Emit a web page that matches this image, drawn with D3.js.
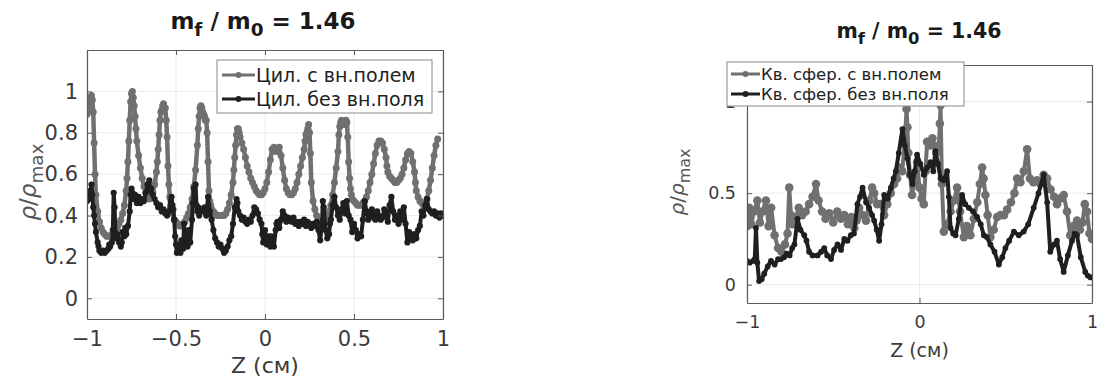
<!DOCTYPE html>
<html>
<head>
<meta charset="utf-8">
<script src="https://cdn.jsdelivr.net/npm/d3@7"></script>
<style>
  body { margin: 0; background: #fff; }
  svg { display: block; }
  text { font-family: "DejaVu Sans", sans-serif; }
</style>
</head>
<body>
<svg id="chart" width="1097" height="382"></svg>
<script>
// ---------------- DATA ----------------
const titleText = ["m", "f", " / m", "0", " = 1.46"];
const xTicksLeft = [-1, -0.5, 0, 0.5, 1];
const yTicksLeft = [0, 0.2, 0.4, 0.6, 0.8, 1];
const xTicksRight = [-1, 0, 1];
const yTicksRight = [0, 0.5, 1];
const legendLeft = ["Цил. с вн.полем", "Цил. без вн.поля"];
const legendRight = ["Кв. сфер. с вн.полем", "Кв. сфер. без вн.поля"];
const xLabel = "Z (см)";

// Left: cylinder, with external field (gray)
const cylFieldX = [-1.00,-0.995,-0.99,-0.985,-0.98,-0.975,-0.97,-0.965,-0.96,-0.955,-0.95,-0.94,-0.93,-0.92,-0.91,-0.90,-0.89,-0.88,-0.87,-0.86,-0.85,-0.84,-0.83,-0.82,-0.81,-0.80,-0.79,-0.78,-0.775,-0.77,-0.765,-0.76,-0.755,-0.75,-0.745,-0.74,-0.735,-0.73,-0.725,-0.72,-0.71,-0.70,-0.69,-0.68,-0.67,-0.66,-0.65,-0.64,-0.63,-0.62,-0.61,-0.605,-0.60,-0.595,-0.59,-0.585,-0.58,-0.575,-0.57,-0.565,-0.56,-0.555,-0.55,-0.545,-0.54,-0.535,-0.53,-0.52,-0.51,-0.50,-0.49,-0.48,-0.47,-0.46,-0.45,-0.44,-0.43,-0.42,-0.41,-0.40,-0.39,-0.38,-0.375,-0.37,-0.365,-0.36,-0.355,-0.35,-0.345,-0.34,-0.335,-0.33,-0.325,-0.32,-0.315,-0.31,-0.305,-0.30,-0.29,-0.28,-0.27,-0.26,-0.25,-0.24,-0.23,-0.22,-0.21,-0.20,-0.19,-0.18,-0.175,-0.17,-0.165,-0.16,-0.155,-0.15,-0.145,-0.14,-0.13,-0.12,-0.11,-0.10,-0.09,-0.08,-0.07,-0.06,-0.05,-0.04,-0.03,-0.02,-0.01,0.00,0.01,0.02,0.03,0.04,0.05,0.06,0.07,0.08,0.09,0.10,0.11,0.12,0.13,0.14,0.15,0.16,0.17,0.18,0.19,0.20,0.21,0.22,0.225,0.23,0.235,0.24,0.245,0.25,0.255,0.26,0.27,0.28,0.29,0.30,0.31,0.32,0.33,0.34,0.35,0.36,0.37,0.38,0.39,0.40,0.41,0.415,0.42,0.425,0.43,0.435,0.44,0.445,0.45,0.455,0.46,0.465,0.47,0.475,0.48,0.485,0.49,0.50,0.51,0.52,0.53,0.54,0.55,0.56,0.57,0.58,0.59,0.60,0.61,0.62,0.63,0.64,0.65,0.66,0.67,0.68,0.685,0.69,0.70,0.71,0.72,0.73,0.74,0.75,0.76,0.77,0.78,0.79,0.80,0.81,0.82,0.83,0.84,0.845,0.85,0.86,0.87,0.88,0.89,0.90,0.91,0.92,0.93,0.94,0.95,0.96,0.97,0.98,0.99,1.00];
const cylFieldY = [0.89,0.90,0.93,0.95,0.97,0.98,0.96,0.90,0.75,0.60,0.50,0.42,0.37,0.34,0.32,0.31,0.30,0.30,0.30,0.31,0.32,0.33,0.34,0.36,0.38,0.41,0.45,0.52,0.58,0.66,0.76,0.86,0.95,0.99,1.00,0.97,0.93,0.88,0.82,0.76,0.69,0.63,0.58,0.54,0.51,0.49,0.48,0.49,0.51,0.55,0.61,0.66,0.72,0.79,0.86,0.90,0.91,0.93,0.94,0.92,0.92,0.86,0.78,0.64,0.55,0.49,0.45,0.41,0.38,0.37,0.36,0.35,0.35,0.36,0.37,0.39,0.41,0.44,0.48,0.54,0.62,0.74,0.82,0.88,0.92,0.93,0.92,0.90,0.89,0.88,0.86,0.86,0.80,0.66,0.52,0.47,0.45,0.43,0.42,0.41,0.40,0.40,0.40,0.40,0.40,0.41,0.43,0.46,0.50,0.56,0.62,0.68,0.74,0.79,0.82,0.82,0.80,0.78,0.75,0.72,0.68,0.64,0.61,0.58,0.56,0.54,0.52,0.51,0.50,0.50,0.51,0.53,0.56,0.61,0.67,0.72,0.73,0.71,0.72,0.73,0.69,0.63,0.57,0.53,0.51,0.50,0.50,0.51,0.53,0.56,0.60,0.64,0.68,0.72,0.76,0.79,0.80,0.82,0.84,0.80,0.70,0.56,0.47,0.43,0.40,0.38,0.37,0.37,0.37,0.38,0.40,0.42,0.45,0.50,0.56,0.63,0.71,0.79,0.83,0.85,0.86,0.85,0.84,0.84,0.85,0.86,0.85,0.78,0.66,0.58,0.53,0.50,0.48,0.47,0.46,0.45,0.45,0.45,0.46,0.47,0.49,0.52,0.56,0.60,0.65,0.70,0.74,0.76,0.76,0.75,0.72,0.68,0.64,0.61,0.59,0.58,0.57,0.56,0.56,0.57,0.58,0.60,0.63,0.67,0.70,0.71,0.70,0.66,0.61,0.56,0.52,0.49,0.47,0.46,0.45,0.46,0.48,0.52,0.57,0.63,0.69,0.74,0.77];

// Left: cylinder, without external field (black) — [Z, rho/rho_max]
const cylNoField = [[-1.00,0.47],[-0.99,0.48],[-0.98,0.52],[-0.975,0.55],[-0.97,0.50],[-0.965,0.44],[-0.96,0.40],[-0.955,0.36],[-0.95,0.32],[-0.94,0.27],[-0.935,0.25],[-0.93,0.23],[-0.92,0.22],[-0.91,0.23],[-0.90,0.22],[-0.89,0.23],[-0.88,0.24],[-0.875,0.26],[-0.87,0.25],[-0.86,0.27],[-0.855,0.33],[-0.85,0.51],[-0.845,0.44],[-0.84,0.30],[-0.835,0.29],[-0.83,0.31],[-0.82,0.27],[-0.81,0.25],[-0.805,0.27],[-0.80,0.32],[-0.79,0.30],[-0.785,0.34],[-0.78,0.31],[-0.77,0.35],[-0.76,0.42],[-0.755,0.50],[-0.75,0.53],[-0.745,0.51],[-0.74,0.48],[-0.73,0.50],[-0.72,0.46],[-0.71,0.49],[-0.70,0.46],[-0.69,0.48],[-0.68,0.47],[-0.67,0.51],[-0.66,0.55],[-0.65,0.57],[-0.645,0.52],[-0.64,0.53],[-0.63,0.50],[-0.62,0.48],[-0.61,0.46],[-0.60,0.44],[-0.59,0.45],[-0.58,0.42],[-0.57,0.43],[-0.56,0.41],[-0.55,0.40],[-0.54,0.42],[-0.53,0.47],[-0.525,0.49],[-0.52,0.45],[-0.515,0.43],[-0.51,0.38],[-0.505,0.30],[-0.50,0.26],[-0.495,0.22],[-0.49,0.23],[-0.48,0.26],[-0.475,0.22],[-0.47,0.28],[-0.46,0.24],[-0.455,0.36],[-0.45,0.27],[-0.44,0.30],[-0.435,0.25],[-0.43,0.33],[-0.42,0.27],[-0.41,0.38],[-0.405,0.46],[-0.40,0.53],[-0.39,0.55],[-0.385,0.45],[-0.38,0.42],[-0.375,0.44],[-0.37,0.40],[-0.36,0.43],[-0.35,0.42],[-0.34,0.44],[-0.33,0.40],[-0.32,0.49],[-0.31,0.42],[-0.30,0.38],[-0.29,0.33],[-0.28,0.29],[-0.27,0.27],[-0.26,0.25],[-0.25,0.26],[-0.24,0.24],[-0.23,0.22],[-0.22,0.23],[-0.21,0.25],[-0.20,0.28],[-0.19,0.30],[-0.18,0.36],[-0.17,0.44],[-0.16,0.48],[-0.155,0.46],[-0.15,0.42],[-0.14,0.40],[-0.13,0.38],[-0.12,0.39],[-0.11,0.37],[-0.10,0.36],[-0.09,0.38],[-0.08,0.37],[-0.07,0.40],[-0.06,0.44],[-0.05,0.43],[-0.04,0.41],[-0.03,0.38],[-0.02,0.36],[-0.015,0.31],[-0.01,0.27],[0.00,0.33],[0.01,0.26],[0.02,0.30],[0.03,0.25],[0.035,0.30],[0.04,0.28],[0.05,0.25],[0.06,0.33],[0.065,0.36],[0.07,0.37],[0.08,0.34],[0.09,0.38],[0.10,0.42],[0.11,0.40],[0.12,0.37],[0.13,0.39],[0.14,0.38],[0.15,0.37],[0.16,0.39],[0.17,0.36],[0.18,0.37],[0.19,0.35],[0.20,0.37],[0.21,0.36],[0.22,0.38],[0.23,0.35],[0.24,0.37],[0.25,0.36],[0.26,0.34],[0.27,0.36],[0.28,0.35],[0.29,0.37],[0.30,0.33],[0.31,0.28],[0.32,0.36],[0.325,0.47],[0.33,0.44],[0.34,0.33],[0.35,0.29],[0.36,0.31],[0.365,0.36],[0.37,0.38],[0.38,0.45],[0.39,0.49],[0.40,0.44],[0.41,0.40],[0.42,0.38],[0.43,0.43],[0.44,0.46],[0.45,0.41],[0.46,0.47],[0.47,0.40],[0.48,0.38],[0.49,0.32],[0.50,0.36],[0.51,0.33],[0.52,0.29],[0.53,0.31],[0.54,0.30],[0.55,0.38],[0.56,0.47],[0.57,0.42],[0.58,0.38],[0.59,0.41],[0.60,0.43],[0.61,0.39],[0.62,0.38],[0.63,0.42],[0.64,0.40],[0.65,0.38],[0.66,0.39],[0.67,0.43],[0.68,0.41],[0.69,0.37],[0.70,0.45],[0.71,0.49],[0.72,0.42],[0.73,0.38],[0.74,0.40],[0.75,0.36],[0.76,0.42],[0.77,0.38],[0.78,0.44],[0.79,0.36],[0.80,0.27],[0.81,0.32],[0.82,0.30],[0.83,0.28],[0.84,0.31],[0.85,0.29],[0.86,0.33],[0.87,0.35],[0.88,0.42],[0.89,0.40],[0.90,0.45],[0.91,0.48],[0.92,0.43],[0.93,0.42],[0.94,0.41],[0.95,0.42],[0.96,0.40],[0.97,0.41],[0.98,0.39],[0.99,0.41],[1.00,0.40]];

// Right: quasi-spherical, with external field (gray)
const sphFieldX = [-1.00,-0.987,-0.975,-0.96,-0.94,-0.925,-0.91,-0.89,-0.875,-0.86,-0.84,-0.82,-0.80,-0.78,-0.765,-0.755,-0.745,-0.737,-0.72,-0.70,-0.68,-0.66,-0.64,-0.62,-0.60,-0.585,-0.565,-0.545,-0.523,-0.50,-0.477,-0.455,-0.436,-0.415,-0.395,-0.378,-0.365,-0.35,-0.33,-0.31,-0.29,-0.275,-0.263,-0.245,-0.224,-0.205,-0.187,-0.167,-0.147,-0.13,-0.118,-0.10,-0.085,-0.075,-0.07,-0.065,-0.055,-0.043,-0.03,-0.014,0.00,0.012,0.025,0.035,0.044,0.06,0.075,0.083,0.097,0.112,0.118,0.122,0.13,0.141,0.16,0.18,0.2,0.218,0.235,0.257,0.275,0.295,0.315,0.335,0.35,0.363,0.372,0.382,0.395,0.411,0.43,0.45,0.47,0.49,0.508,0.53,0.55,0.566,0.585,0.605,0.624,0.64,0.66,0.682,0.70,0.72,0.74,0.76,0.78,0.797,0.815,0.836,0.855,0.874,0.893,0.913,0.93,0.945,0.958,0.971,0.985,1.00];
const sphFieldY = [0.32,0.42,0.33,0.40,0.46,0.34,0.40,0.46,0.32,0.42,0.27,0.20,0.18,0.22,0.28,0.53,0.38,0.33,0.36,0.42,0.38,0.40,0.44,0.48,0.55,0.46,0.40,0.36,0.39,0.34,0.40,0.36,0.38,0.33,0.37,0.31,0.35,0.42,0.38,0.35,0.46,0.53,0.50,0.44,0.44,0.38,0.44,0.50,0.55,0.58,0.64,0.62,0.78,0.96,0.86,0.72,0.60,0.49,0.56,0.67,0.53,0.47,0.44,0.62,0.78,0.76,0.80,0.76,0.72,0.76,0.88,0.98,0.55,0.29,0.33,0.40,0.46,0.53,0.40,0.26,0.32,0.27,0.36,0.45,0.55,0.64,0.58,0.49,0.38,0.26,0.30,0.37,0.38,0.38,0.41,0.45,0.50,0.58,0.56,0.62,0.74,0.58,0.56,0.57,0.55,0.60,0.58,0.52,0.48,0.44,0.47,0.49,0.40,0.27,0.32,0.35,0.30,0.34,0.44,0.40,0.28,0.25];

// Right: quasi-spherical, without external field (black)
const sphNoFieldX = [-1.00,-0.985,-0.965,-0.955,-0.948,-0.94,-0.93,-0.915,-0.90,-0.88,-0.861,-0.84,-0.82,-0.803,-0.785,-0.77,-0.753,-0.738,-0.725,-0.707,-0.69,-0.668,-0.655,-0.64,-0.62,-0.591,-0.57,-0.552,-0.535,-0.513,-0.495,-0.475,-0.455,-0.436,-0.418,-0.398,-0.38,-0.36,-0.345,-0.33,-0.31,-0.292,-0.275,-0.263,-0.248,-0.234,-0.22,-0.205,-0.185,-0.166,-0.15,-0.137,-0.12,-0.099,-0.085,-0.07,-0.055,-0.041,-0.028,-0.014,0.005,0.025,0.045,0.064,0.08,0.092,0.107,0.122,0.14,0.16,0.17,0.18,0.195,0.209,0.228,0.247,0.265,0.286,0.31,0.334,0.355,0.373,0.39,0.411,0.435,0.46,0.48,0.498,0.52,0.547,0.575,0.604,0.63,0.662,0.69,0.72,0.74,0.758,0.78,0.797,0.815,0.836,0.86,0.884,0.90,0.913,0.935,0.961,0.975,0.99,1.00];
const sphNoFieldY = [0.13,0.12,0.13,0.14,0.31,0.12,0.02,0.03,0.06,0.10,0.13,0.11,0.14,0.14,0.15,0.17,0.16,0.20,0.22,0.36,0.30,0.27,0.24,0.18,0.16,0.16,0.18,0.20,0.16,0.14,0.19,0.22,0.19,0.25,0.24,0.27,0.28,0.44,0.48,0.53,0.45,0.42,0.38,0.35,0.30,0.24,0.33,0.49,0.47,0.53,0.58,0.62,0.72,0.85,0.76,0.69,0.60,0.55,0.62,0.71,0.66,0.60,0.64,0.67,0.62,0.73,0.66,0.58,0.57,0.62,0.48,0.31,0.28,0.27,0.36,0.49,0.44,0.42,0.40,0.37,0.33,0.27,0.26,0.22,0.18,0.11,0.15,0.20,0.24,0.29,0.27,0.29,0.33,0.42,0.50,0.60,0.45,0.18,0.22,0.24,0.14,0.07,0.16,0.24,0.28,0.27,0.15,0.07,0.05,0.04,0.04];

// ---------------- DRAW ----------------
const svg = d3.select("#chart");
const GRAY = "#707070", BLACK = "#1f1f1f";
const zip = (xs, ys) => xs.map((v, i) => [v, ys[i]]);

function panel(cfg) {
  const x = d3.scaleLinear().domain([-1, 1]).range([cfg.left, cfg.right]);
  const y = d3.scaleLinear().domain([-0.1, 1.2]).range([cfg.bottom, cfg.top]);
  const g = svg.append("g");
  const fmt = v => (v < 0 ? "\u2212" : "") + Math.abs(v);

  // grid
  g.selectAll(".gx").data(cfg.xTicks).join("line")
    .attr("x1", d => x(d)).attr("x2", d => x(d)).attr("y1", cfg.top).attr("y2", cfg.bottom)
    .attr("stroke", "#ebebeb").attr("stroke-width", 1);
  g.selectAll(".gy").data(cfg.yTicks).join("line")
    .attr("x1", cfg.left).attr("x2", cfg.right).attr("y1", d => y(d)).attr("y2", d => y(d))
    .attr("stroke", "#ebebeb").attr("stroke-width", 1);

  // data
  const clipId = "clip" + cfg.id;
  svg.append("clipPath").attr("id", clipId).append("rect")
    .attr("x", cfg.left).attr("y", cfg.top).attr("width", cfg.right - cfg.left).attr("height", cfg.bottom - cfg.top);
  const dg = g.append("g").attr("clip-path", `url(#${clipId})`);
  cfg.series.forEach(s => {
    const pts = s.pts;
    dg.append("path").datum(pts)
      .attr("d", d3.line().x(d => x(d[0])).y(d => y(d[1])))
      .attr("fill", "none").attr("stroke", s.color).attr("stroke-width", s.lw).attr("stroke-linejoin", "round");
    dg.append("g").selectAll("circle").data(pts).join("circle")
      .attr("cx", d => x(d[0])).attr("cy", d => y(d[1])).attr("r", s.r).attr("fill", s.color);
  });

  // axes (box with inward ticks)
  const axCol = "#5a5a5a";
  const ax = g.append("g");
  const xAxisB = d3.axisBottom(x).tickValues(cfg.xTicks).tickSizeInner(-5).tickSizeOuter(0).tickPadding(cfg.xPad).tickFormat(fmt);
  const yAxisL = d3.axisLeft(y).tickValues(cfg.yTicks).tickSizeInner(-5).tickSizeOuter(0).tickPadding(cfg.yPad).tickFormat(fmt);
  const xAxisT = d3.axisTop(x).tickValues(cfg.xTicks).tickSizeInner(-5).tickSizeOuter(0).tickFormat("");
  const yAxisR = d3.axisRight(y).tickValues(cfg.yTicks).tickSizeInner(-5).tickSizeOuter(0).tickFormat("");
  const ab = ax.append("g").attr("transform", `translate(0,${cfg.bottom})`).call(xAxisB);
  const al = ax.append("g").attr("transform", `translate(${cfg.left},0)`).call(yAxisL);
  const at = ax.append("g").attr("transform", `translate(0,${cfg.top})`).call(xAxisT);
  const ar = ax.append("g").attr("transform", `translate(${cfg.right},0)`).call(yAxisR);
  [ab, al, at, ar].forEach(a => {
    a.select(".domain").attr("stroke", axCol).attr("stroke-width", 1.2);
    a.selectAll(".tick line").attr("stroke", axCol);
    a.selectAll("text").attr("fill", "#3a3a3a").style("font-size", cfg.tickFs + "px").style("font-family", "DejaVu Sans");
  });

  // title
  const t = g.append("text").attr("x", cfg.titleX).attr("y", cfg.titleY)
    .attr("text-anchor", "middle").attr("font-weight", "bold").attr("font-size", cfg.titleFs).attr("fill", "#1a1a1a");
  titleText.forEach((s, i) => {
    const ts = t.append("tspan").text(s);
    if (i === 1 || i === 3) ts.attr("dy", cfg.titleFs * 0.3).attr("font-size", cfg.titleFs * 0.8);
    else if (i > 0) ts.attr("dy", -cfg.titleFs * 0.3);
  });

  // x label
  g.append("text").attr("x", (cfg.left + cfg.right) / 2).attr("y", cfg.xlabY).attr("text-anchor", "middle")
    .attr("font-size", cfg.labFs).attr("fill", "#3a3a3a").text(xLabel);

  // y label
  const yl = g.append("text").attr("transform", `translate(${cfg.ylabX},${cfg.ylabYc}) rotate(-90)`)
    .attr("text-anchor", "middle").attr("font-size", cfg.ylabFs).attr("fill", "#555");
  yl.append("tspan").attr("font-style", "italic").text("ρ");
  yl.append("tspan").text("/");
  yl.append("tspan").attr("font-style", "italic").text("ρ");
  yl.append("tspan").attr("dy", cfg.ylabFs * 0.3).attr("font-size", cfg.ylabFs * 0.8).text("max");

  // legend
  const L = cfg.legend;
  const lg = g.append("g");
  lg.append("rect").attr("x", L.x).attr("y", L.y).attr("width", L.w).attr("height", L.h)
    .attr("fill", "#fff").attr("stroke", "#8a8a8a").attr("stroke-width", 1);
  L.labels.forEach((lab, i) => {
    const s = cfg.series[i];
    const cy = L.y + L.rowY[i];
    lg.append("line").attr("x1", L.x + L.lx1).attr("x2", L.x + L.lx2).attr("y1", cy).attr("y2", cy)
      .attr("stroke", s.color).attr("stroke-width", 3);
    lg.append("circle").attr("cx", L.x + (L.lx1 + L.lx2) / 2).attr("cy", cy).attr("r", 3).attr("fill", s.color);
    lg.append("text").attr("x", L.x + L.tx).attr("y", cy).attr("dy", "0.36em")
      .attr("font-size", L.fs).attr("fill", "#222").text(lab);
  });
}

panel({
  id: "L", left: 87, right: 443, top: 50, bottom: 319,
  xTicks: xTicksLeft, yTicks: yTicksLeft, tickFs: 21, labFs: 22, ylabFs: 23,
  xPad: 12, yPad: 9,
  titleX: 263, titleY: 29, titleFs: 23, xlabY: 373, ylabX: 36, ylabYc: 182,
  series: [
    { pts: zip(cylFieldX, cylFieldY), color: GRAY, lw: 4.5, r: 3.5 },
    { pts: cylNoField, color: BLACK, lw: 4, r: 3.1 }
  ],
  legend: { x: 217, y: 60, w: 215, h: 53, rowY: [15, 39], lx1: 5, lx2: 38, tx: 39, fs: 19, labels: legendLeft }
});

panel({
  id: "R", left: 747, right: 1092, top: 65, bottom: 303,
  xTicks: xTicksRight, yTicks: yTicksRight, tickFs: 17.5, labFs: 19, ylabFs: 20,
  xPad: 13, yPad: 11,
  titleX: 919, titleY: 38, titleFs: 20.5, xlabY: 357, ylabX: 684, ylabYc: 182,
  series: [
    { pts: zip(sphFieldX, sphFieldY), color: GRAY, lw: 4, r: 4.3 },
    { pts: zip(sphNoFieldX, sphNoFieldY), color: BLACK, lw: 4, r: 2.9 }
  ],
  legend: { x: 727, y: 62, w: 237, h: 44, rowY: [12, 32], lx1: 4, lx2: 33, tx: 34, fs: 16.5, labels: legendRight }
});
</script>
</body>
</html>
